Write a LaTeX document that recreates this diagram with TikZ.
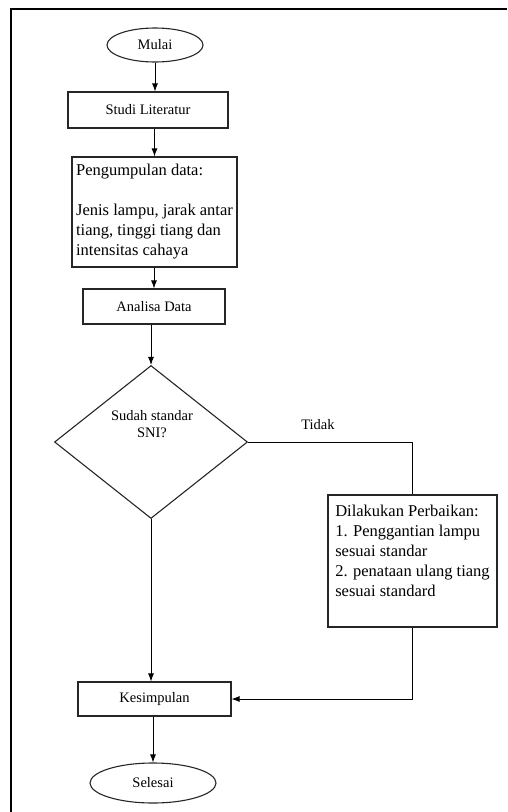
\documentclass[tikz,border=0pt]{standalone}
\usepackage{fontspec}
\setmainfont{Liberation Serif}
\usetikzlibrary{shapes.geometric,arrows.meta}

\newcommand{\smalltxt}{\fontsize{14.5}{17}\selectfont}
\newcommand{\bigtxt}{\fontsize{16.5}{20}\selectfont}

\begin{document}
\begin{tikzpicture}[
      x=1pt, y=-1pt,
      font=\smalltxt,
      box/.style={draw=black!85, line width=1.1pt, inner sep=0pt, align=center},
      textbox/.style={draw=black!85, line width=1.1pt, inner sep=0pt,
                      align=left, font=\bigtxt},
      terminal/.style={ellipse, draw=black!85, line width=1.1pt, inner sep=0pt},
      decision/.style={diamond, draw=black!85, line width=1.1pt, inner sep=0pt},
      flow/.style={draw=black, ->, >={Latex[length=8pt,width=6pt]}, line width=.9pt},
      plain/.style={draw=black, line width=.9pt}
    ]
    \useasboundingbox (0,0) rectangle (507,812);
    % outer frame (cut off at the right and bottom)
    \draw[line width=1.8pt] (507,9) -- (11,9) -- (11,812);

    % main column
    \node[terminal, minimum width=96pt, minimum height=34pt] (mulai) at (155,45) {Mulai};
    \node[box, minimum width=160pt, minimum height=36pt] (studi) at (148,110) {Studi Literatur};
    \node[textbox, minimum width=165pt, minimum height=110pt] (kumpul) at (154.5,212)
      {Pengumpulan data:\\ \mbox{}\\ Jenis lampu, jarak antar\\ tiang, tinggi tiang dan\\ intensitas cahaya};
    \node[box, minimum width=142pt, minimum height=35pt] (analisa) at (154,306.5) {Analisa Data};
    \node[decision, minimum width=193pt, minimum height=153pt] (sni) at (151,442) {};
    \node[align=center, inner sep=0pt] (snitext) at (152,424.5) {Sudah standar\\SNI?};
    \node[box, minimum width=153pt, minimum height=34pt] (simpul) at (154.5,699) {Kesimpulan};
    \node[terminal, minimum width=126pt, minimum height=40pt] (selesai) at (153,783) {Selesai};

    % repair branch
    \node[inner sep=0pt] (tidak) at (318,425) {Tidak};
    \node[textbox, minimum width=169pt, minimum height=132pt] (perbaikan) at (412.5,561)
      {Dilakukan Perbaikan:\\ 1. Penggantian lampu\\ sesuai standar\\ 2. penataan ulang tiang\\ sesuai standard\\ \mbox{}};

    \draw[flow] (mulai.south) -- (mulai.south |- studi.north);
    \draw[flow] (kumpul.north |- studi.south) -- (kumpul.north);
    \draw[flow] (analisa.north |- kumpul.south) -- (analisa.north);
    \draw[flow] (sni.north |- analisa.south) -- (sni.north);
    \draw[flow] (sni.south) -- (sni.south |- simpul.north);
    \draw[flow] (simpul.south -| selesai.north) -- (selesai.north);
    \draw[plain] (sni.east) -| (perbaikan.north);
    \draw[flow] (perbaikan.south) |- (simpul.east);
  \end{tikzpicture}
\end{document}
